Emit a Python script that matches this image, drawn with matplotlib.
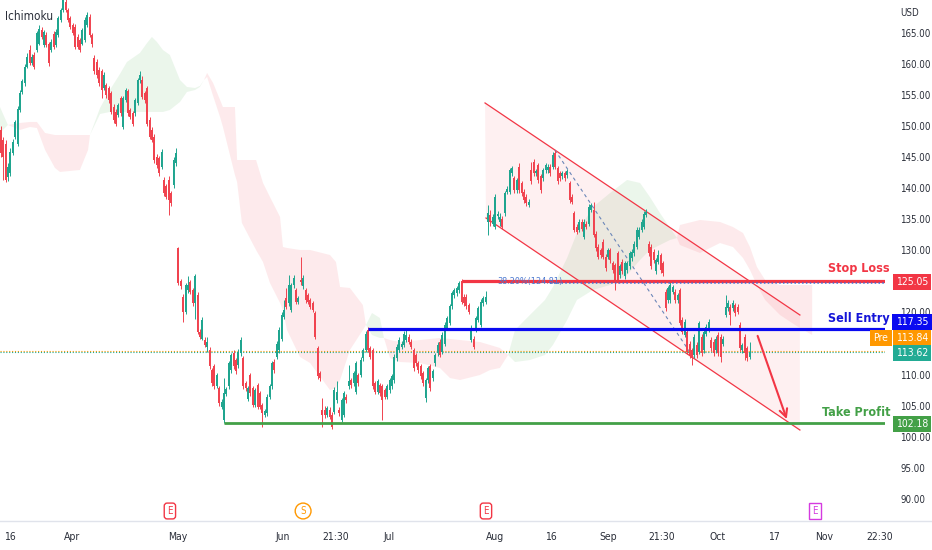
import numpy as np
import matplotlib
matplotlib.use("Agg")
import matplotlib.pyplot as plt
from matplotlib import font_manager as fm
from matplotlib.patches import Polygon, FancyArrowPatch
from matplotlib.lines import Line2D
import matplotlib.transforms as mtransforms

# ---------------- data (4H candles) ----------------
opens = [
    149.4,147.8,147.2,141.8,142.4,145.6,148.3,147.2,152.6,155.5,
    156.9,159.6,162.2,160.1,161.5,162.3,163.3,165.5,163.1,164.7,
    163.3,162.3,164.9,163.1,164.7,167.1,168.7,170.0,168.7,167.4,
    166.3,166.0,164.4,163.9,163.3,163.9,166.3,167.6,164.7,160.9,
    160.4,159.0,158.8,156.1,156.6,156.1,155.3,153.1,152.3,151.8,
    154.5,149.9,154.2,155.6,152.6,152.1,152.1,153.7,157.4,157.4,
    155.3,156.1,151.0,149.4,148.3,145.1,144.8,143.5,141.3,140.3,
    141.3,139.2,140.5,144.0,
    130.3,125.0,122.5,120.1,123.6,124.9,123.6,121.5,122.8,116.9,
    115.8,115.6,114.5,114.0,110.7,111.3,108.1,107.8,104.8,102.7,
    106.9,108.1,110.7,113.4,112.3,111.5,113.4,112.6,108.6,106.1,
    109.9,107.8,105.1,108.3,107.0,105.1,103.5,103.8,106.4,108.1,
    112.1,112.9,113.9,115.8,119.3,122.3,121.5,120.4,124.4,123.6,
    121.7,125.2,124.2,123.6,122.8,122.0,121.5,119.9,114.2,110.2,
    104.3,104.3,103.5,104.3,103.5,104.0,105.9,104.3,102.7,103.5,
    106.4,108.1,109.1,108.6,107.2,109.9,110.0,112.6,114.0,117.2,
    114.2,113.9,108.6,107.2,108.3,108.1,107.5,106.4,107.5,108.1,
    109.1,112.6,114.0,114.5,114.8,115.6,116.1,115.3,113.9,113.1,
    111.8,111.3,110.2,106.2,109.1,111.3,109.4,111.8,113.4,115.3,
    113.7,115.0,117.5,118.3,121.0,122.8,123.1,123.6,125.0,122.5,
    122.5,121.2,115.6,115.8,117.2,118.8,118.0,121.5,121.7,
    134.6,135.7,134.3,133.8,135.5,134.6,135.1,136.0,139.4,139.4,
    142.4,141.6,139.7,143.5,140.8,139.4,138.6,137.3,142.9,144.3,
    142.4,143.7,141.9,141.6,142.9,142.9,143.5,143.5,145.6,143.2,
    142.4,141.9,142.4,142.1,140.8,138.6,136.0,133.8,133.3,134.6,
    132.2,134.3,134.3,136.5,136.5,132.7,130.6,130.0,131.4,129.0,
    129.0,130.0,127.9,127.6,129.5,126.0,128.2,125.8,126.8,127.4,
    128.7,129.5,130.6,132.2,133.3,133.8,135.7,131.1,130.6,129.8,
    126.6,128.2,129.2,127.9,
    123.3,122.0,122.0,123.3,123.3,122.0,123.6,118.8,116.4,116.9,
    115.0,113.9,113.1,114.8,113.7,116.1,113.9,116.6,117.2,115.6,
    115.3,113.9,116.4,116.1,115.0,119.6,120.7,120.9,120.7,121.2,
    120.9,118.0,113.9,116.1,114.2,112.9,
]
highs = [
    150.0,148.3,147.8,144.0,146.5,148.0,151.0,153.2,155.8,157.6,
    160.0,161.8,163.0,161.6,162.0,165.3,166.3,165.9,165.5,165.1,
    163.6,164.0,165.3,165.6,167.8,169.1,170.6,170.4,169.0,167.8,
    166.6,166.4,164.8,164.2,165.8,167.5,168.3,168.0,165.0,161.5,
    160.8,159.5,159.2,158.7,157.0,156.5,155.7,153.5,152.7,153.8,
    154.9,154.9,156.2,156.0,153.0,152.5,154.6,157.8,158.8,158.0,
    155.7,156.5,151.4,149.8,148.7,145.5,145.2,146.3,141.8,140.7,
    142.0,139.6,145.0,146.4,
    130.6,125.4,123.0,124.8,125.8,125.3,124.0,126.2,123.3,117.4,
    119.3,116.0,116.0,114.4,111.0,111.7,110.3,108.2,106.0,109.5,
    108.0,112.2,113.5,114.0,112.7,114.1,116.1,113.0,109.0,108.2,
    110.3,108.2,107.9,108.7,107.4,105.5,104.5,106.8,108.5,112.2,
    112.5,115.4,117.6,120.0,122.0,124.0,126.0,124.8,126.0,124.0,
    122.7,129.0,126.0,124.0,123.2,122.4,121.9,120.3,114.6,110.6,
    106.2,104.9,105.0,104.7,104.0,108.0,108.9,104.7,106.3,107.4,
    106.8,111.5,109.5,110.6,112.2,110.3,112.8,114.3,117.0,117.6,
    114.6,114.3,109.0,109.3,108.7,108.5,107.9,108.5,109.5,110.1,
    113.3,115.0,116.0,115.4,117.0,117.4,116.5,115.7,114.3,113.5,
    112.2,111.7,110.6,109.5,111.4,111.7,110.9,113.5,115.2,115.7,
    116.8,118.4,119.5,121.4,123.5,124.0,124.3,125.1,125.4,122.9,
    122.9,121.6,118.0,116.2,119.5,121.1,122.1,122.7,123.4,
    137.3,136.5,135.8,139.0,136.3,136.0,135.5,139.6,140.3,143.3,
    143.6,142.0,141.7,144.0,141.2,139.8,139.0,138.2,144.3,144.7,
    143.1,144.1,142.3,143.3,144.1,143.9,143.9,145.8,146.2,143.6,
    142.8,142.8,142.8,143.1,141.2,139.0,136.4,134.2,135.0,135.0,
    135.0,134.7,137.4,137.7,137.8,133.1,131.0,130.4,131.8,129.4,
    130.4,130.4,128.3,128.0,129.9,127.8,128.6,128.3,128.3,129.9,
    130.2,131.5,133.7,133.7,135.0,136.3,136.7,131.5,131.0,130.2,
    128.8,130.0,129.6,128.3,
    123.7,124.3,124.9,124.5,123.7,123.2,124.0,119.2,118.9,117.3,
    115.4,114.3,116.5,115.2,118.7,116.5,117.3,118.1,118.9,116.0,
    115.7,116.2,116.8,116.5,116.2,122.8,122.0,121.3,122.0,121.6,
    121.3,118.4,115.1,116.5,114.6,115.2,
]
lows = [
    145.0,141.3,141.0,141.2,142.0,145.4,148.0,146.8,152.3,155.2,
    156.5,159.3,159.8,159.8,159.2,161.9,163.0,164.0,162.8,162.7,
    159.7,162.0,162.5,162.8,164.4,166.8,168.4,168.3,166.8,165.7,
    164.6,162.4,162.4,161.9,163.0,163.5,166.0,164.3,162.8,158.4,
    157.8,156.4,154.5,155.8,154.6,153.8,151.9,150.5,150.0,151.4,
    151.7,149.5,153.9,151.7,151.1,150.0,151.7,153.4,157.0,154.3,
    153.8,150.0,147.9,147.4,144.1,143.3,142.0,143.1,138.8,138.2,
    135.7,137.2,140.1,143.6,
    124.5,123.8,118.5,119.7,123.2,122.9,121.0,119.0,116.5,115.8,
    115.5,114.4,113.6,110.9,108.2,107.6,107.8,105.0,104.4,102.2,
    106.5,107.7,110.3,110.9,110.1,111.1,113.0,107.7,107.4,105.7,
    106.6,104.7,104.7,104.4,104.4,101.6,103.1,103.4,106.0,107.7,
    110.3,112.5,113.5,115.4,118.9,120.5,121.1,120.0,124.0,121.3,
    121.3,124.5,123.8,121.6,121.3,120.5,120.0,115.7,109.3,109.0,
    101.6,103.0,103.1,102.8,101.2,103.6,105.5,103.4,102.3,103.1,
    105.5,107.7,107.9,108.2,106.8,108.2,109.6,112.2,113.6,113.6,
    112.5,107.7,106.8,106.8,106.6,102.7,106.0,106.0,107.1,107.7,
    108.7,112.2,113.6,114.1,114.4,115.2,114.9,114.1,110.6,111.4,
    110.3,109.3,108.2,105.6,108.7,107.4,109.0,111.4,113.0,112.8,
    113.3,114.6,117.1,117.9,120.6,122.4,122.7,123.2,121.3,121.1,
    120.6,119.7,115.2,114.1,116.8,118.4,117.6,121.1,121.3,
    132.5,134.0,133.9,133.4,135.0,134.0,133.4,135.6,139.0,139.0,
    142.0,139.3,139.3,139.3,138.8,137.7,137.2,136.9,140.7,142.0,
    142.0,140.9,139.3,141.2,142.5,142.5,142.0,143.1,143.1,140.7,
    141.2,141.5,141.2,141.7,137.7,137.4,132.9,132.6,132.9,133.1,
    131.8,133.4,133.9,136.1,132.1,129.9,128.6,128.8,128.6,126.7,
    128.6,128.0,126.4,123.6,124.8,125.6,126.2,125.4,126.4,127.0,
    128.3,129.1,130.2,131.8,132.9,133.4,135.3,129.1,127.0,128.0,
    126.2,127.8,126.4,125.9,
    120.3,121.6,121.6,122.9,121.6,121.6,117.9,116.5,116.0,113.3,
    112.7,111.5,112.7,112.7,113.3,113.0,113.5,116.2,116.8,113.8,
    113.0,113.5,113.0,112.1,114.6,119.2,120.3,118.0,120.3,119.5,
    119.7,113.8,113.5,112.3,112.2,112.5,
]
closes = [
    145.6,145.1,141.3,143.5,145.9,147.5,150.7,152.8,155.3,157.2,
    159.6,161.2,160.1,161.2,159.6,165.0,165.7,164.4,165.2,163.1,
    160.1,163.6,162.8,165.2,167.4,168.7,170.3,168.7,167.1,166.0,
    165.0,162.8,162.8,162.3,165.5,167.1,167.9,164.7,163.3,158.8,
    158.2,156.9,155.8,158.2,155.0,154.2,152.3,151.0,150.4,153.4,
    152.1,154.5,155.8,152.1,151.5,150.4,154.2,157.4,158.3,154.7,
    154.2,150.4,148.3,147.8,144.5,143.7,142.4,145.9,139.2,138.6,
    138.1,137.6,144.5,145.6,
    124.7,124.2,120.1,124.4,124.4,123.3,121.5,125.8,116.9,116.1,
    118.8,114.8,115.3,111.3,108.6,108.1,109.9,105.4,105.6,107.0,
    107.6,111.8,113.1,111.3,110.5,113.7,115.6,108.1,107.8,107.8,
    107.0,105.1,107.5,104.8,104.8,103.8,104.1,106.4,108.1,111.8,
    110.7,115.0,117.2,119.6,120.4,120.9,124.4,124.4,125.5,121.7,
    122.3,124.9,125.5,122.0,121.7,120.9,120.4,116.1,109.7,109.4,
    103.5,103.5,104.6,103.2,101.6,107.5,107.2,103.8,105.9,107.0,
    105.9,108.9,108.3,110.2,111.8,108.6,112.4,113.9,116.6,114.0,
    112.9,108.1,107.2,108.9,107.0,105.9,106.4,108.1,109.1,109.7,
    112.9,114.5,115.6,115.0,116.6,116.4,115.3,114.5,111.0,111.8,
    110.7,109.7,108.6,109.1,111.0,107.8,110.5,113.1,114.8,113.2,
    116.4,118.0,119.1,121.0,123.1,123.6,123.9,124.7,121.7,121.5,
    121.0,120.1,117.5,114.5,119.1,120.7,121.7,122.3,122.5,
    136.0,134.6,135.4,138.6,135.9,135.4,133.8,139.2,139.9,142.9,
    143.2,139.7,141.3,139.7,139.2,138.1,137.6,137.8,141.1,142.4,
    142.7,141.3,139.7,142.9,143.7,143.5,142.4,145.4,143.5,141.1,
    141.6,142.4,141.6,142.7,138.1,137.8,133.3,133.0,134.6,133.5,
    134.6,133.8,137.0,137.3,132.5,130.3,129.0,129.2,129.0,127.1,
    130.0,128.4,126.8,125.0,125.2,127.4,126.6,127.9,127.9,129.5,
    129.8,131.1,133.3,133.3,134.6,135.9,136.2,129.5,127.4,128.4,
    128.4,129.2,126.8,126.3,
    120.7,123.9,124.4,124.1,122.0,122.8,118.3,116.9,118.5,113.7,
    113.1,112.6,116.1,113.1,118.3,113.4,116.9,117.7,118.5,114.2,
    113.4,115.8,113.4,112.9,115.8,120.9,121.5,119.6,121.5,119.9,
    120.1,114.2,114.7,113.4,112.6,113.62,
]

# Ichimoku cloud (leading spans A / B), sampled at bar positions
cloud_x = [-0.3, 3.0, 8.0, 12.2, 15.1, 18.5, 22.6, 24.7, 33.0, 36.4, 37.2,
           41.4, 45.5, 49.7, 52.6, 58.0, 61.0, 63.0, 65.1, 67.6, 70.5, 74.7,
           77.6, 81.0, 83.0, 84.7, 86.0, 88.5, 91.4, 92.6, 97.6, 98.5, 100.5,
           106.4, 109.3, 112.2, 116.4, 117.6, 119.3, 124.7, 128.9, 137.2,
           139.7, 141.4, 145.5, 150.9, 152.2, 154.7, 158.0, 159.7, 162.2,
           166.4, 174.7, 183.0, 187.2, 191.4, 199.7, 203.9, 208.0, 211.4,
           214.3, 220.5, 226.8, 230.1, 236.0, 240.1, 246.8, 253.9, 261.0,
           266.4, 270.5, 274.7, 278.9, 281.8, 283.0, 291.4, 299.7, 305.1,
           309.3, 312.2, 315.1, 318.5, 324.7, 331.0, 338.1]
span_a = [153.08, 150.19, 149.38, 149.86, 149.70, 146.16, 143.27, 142.62, 142.94,
          146.16, 148.57, 152.92, 155.82, 158.40, 160.33, 161.78, 163.39, 164.36,
          163.55, 162.26, 161.46, 157.43, 156.31, 156.14, 156.47, 157.43, 157.91,
          154.86, 151.47, 149.86, 142.13, 141.01, 134.41, 130.06, 128.12, 124.74,
          121.52, 120.40, 117.17, 112.83, 111.86, 107.51, 107.83, 109.12, 113.95,
          117.17, 117.98, 119.91, 119.11, 115.89, 112.66, 112.02, 111.86, 111.06,
          109.44, 109.12, 109.93, 110.73, 111.06, 113.15, 117.17, 119.59, 122.01,
          124.10, 128.77, 132.79, 136.98, 139.23, 141.33, 140.85, 138.59, 136.01,
          133.60, 131.99, 130.86, 129.57, 131.18, 130.54, 128.77, 126.84, 124.42,
          122.01, 119.59, 117.98, 116.37]
span_b = [148.90, 150.19, 150.51, 150.67, 150.67, 148.90, 148.57, 148.57, 148.57,
          148.57, 148.57, 151.96, 152.28, 152.28, 152.28, 152.28, 152.28, 152.28,
          152.28, 152.28, 152.60, 153.89, 155.50, 155.82, 156.31, 157.43, 158.56,
          156.95, 154.21, 153.08, 153.08, 144.55, 144.55, 144.55, 140.85, 138.59,
          135.37, 130.54, 130.38, 130.06, 130.06, 129.25, 128.12, 124.10, 123.94,
          121.20, 117.98, 116.37, 115.89, 115.89, 115.56, 115.24, 115.56, 115.89,
          115.73, 115.56, 115.24, 114.76, 114.28, 113.15, 112.02, 112.34, 113.15,
          114.76, 118.78, 122.01, 123.62, 124.42, 126.03, 128.45, 130.06, 130.86,
          131.67, 131.99, 134.08, 134.89, 134.57, 133.76, 132.79, 130.54, 127.32,
          125.23, 124.42, 124.42, 124.42]

stop_loss, sell_entry, take_profit = 125.05, 117.35, 102.18
fib_level = 124.81
pre_price, last_price = 113.84, 113.62
channel_upper = [(201.8, 153.73), (333.0, 119.59)]
channel_lower = [(202.2, 135.21), (333.0, 101.07)]
fib_trend = [(230.9, 146.16), (288.5, 112.83)]
arrow_pts = [(315.0, 116.65), (327.9, 102.41)]
level_start = {"stop": 192, "entry": 153, "tp": 93, "fib_text": 206.8, "fib_dots": 228.9}

x_tick_pos = [3.9, 29.7, 73.9, 117.6, 139.7, 161.8, 206.0, 229.3, 253.0, 275.5, 298.5, 322.2, 343.0, 366.4]
x_tick_lab = ['16', 'Apr', 'May', 'Jun', '21:30', 'Jul', 'Aug', '16', 'Sep', '21:30', 'Oct', '17', 'Nov', '22:30']
y_ticks = [90, 95, 100, 105, 110, 120, 130, 135, 140, 145, 150, 155, 160, 165]
events = [(70.5, 'E', '#f23645', 'round'), (126.0, 'S', '#ff9800', 'circle'),
          (202.2, 'E', '#f23645', 'round'), (339.3, 'E', '#d53be0', 'square')]

# ---------------- fonts ----------------
names = {f.name for f in fm.fontManager.ttflist}
stretch = 'normal'
if 'Liberation Sans Narrow' in names:
    FAM = 'Liberation Sans Narrow'
else:
    FAM = 'DejaVu Sans'
    for f in fm.fontManager.ttflist:
        if f.name == 'DejaVu Sans' and str(f.stretch) in ('condensed', 'semi-condensed', '500', '600'):
            stretch = 'condensed'
            break
    if stretch == 'normal' and 'Liberation Sans' in names:
        FAM = 'Liberation Sans'
plt.rcParams['font.family'] = [FAM, 'DejaVu Sans']
plt.rcParams['font.stretch'] = stretch

GREEN = '#1fa58f'
RED = '#f0434f'
TXT = '#2a2e39'

W, H = 932, 550
fig = plt.figure(figsize=(W / 100, H / 100), dpi=100)
fig.patch.set_facecolor('white')
ax = fig.add_axes([0, 29 / H, 885 / W, 521 / H])
PX, X0 = 2.4, 0.7
xmin, xmax = (0 - X0) / PX, (885 - X0) / PX
ax.set_xlim(xmin, xmax)
ax.set_ylim(86.42, 170.31)
for s in ax.spines.values():
    s.set_visible(False)

# cloud
cx = np.array(cloud_x); a = np.array(span_a); b = np.array(span_b)
ax.fill_between(cx, a, b, where=a >= b, interpolate=True, color='#4caf50', alpha=0.11, lw=0, zorder=1)
ax.fill_between(cx, a, b, where=a <= b, interpolate=True, color='#f23645', alpha=0.10, lw=0, zorder=1)

# channel
(ux0, uy0), (ux1, uy1) = channel_upper
(lx0, ly0), (lx1, ly1) = channel_lower
ax.add_patch(Polygon([(ux0, uy0), (ux1, uy1), (lx1, ly1), (lx0, ly0)], closed=True,
                     fc='#f23645', alpha=0.07, ec='none', zorder=1.5))
ax.plot([ux0, ux1], [uy0, uy1], color='#f23645', lw=0.9, zorder=2)
ax.plot([lx0, lx1], [ly0, ly1], color='#f23645', lw=0.9, zorder=2)

# candles
o = np.array(opens); h = np.array(highs); l = np.array(lows); c = np.array(closes)
n = len(c)
idx = np.arange(n)
cols = np.where(c >= o, GREEN, RED)
ax.vlines(idx, l, h, colors=cols, lw=0.7, zorder=3)
ax.bar(idx, np.maximum(np.abs(c - o), 0.18), bottom=np.minimum(o, c), width=0.78,
       color=cols, lw=0, zorder=3)

# dotted price lines
ax.axhline(pre_price, color='#ff9800', lw=0.8, ls=(0, (1, 1.6)), zorder=2.5)
ax.axhline(last_price, color='#22ab94', lw=0.8, ls=(0, (1, 1.6)), zorder=2.5)

# horizontal levels
ax.plot([level_start['stop'], xmax], [stop_loss] * 2, color='#f23645', lw=2.3, zorder=4, solid_capstyle='butt')
ax.plot([level_start['entry'], xmax], [sell_entry] * 2, color='#0a0af0', lw=2.3, zorder=4, solid_capstyle='butt')
ax.plot([level_start['tp'], xmax], [take_profit] * 2, color='#43a047', lw=2.0, zorder=4, solid_capstyle='butt')
ax.plot([level_start['fib_dots'], xmax], [fib_level] * 2, color='#3f6fd8', lw=1.1, ls=(0, (1, 1.5)), zorder=4.5)
ax.text(level_start['fib_text'], fib_level + 0.15, '38.20%(124.81)', color='#4a78d0', fontsize=6.5,
        va='center', ha='left', zorder=5)

# fib trend dashed
(fx0, fy0), (fx1, fy1) = fib_trend
ax.plot([fx0, fx1], [fy0, fy1], color='#6b86b8', lw=0.8, ls=(0, (3, 3)), zorder=2.6)

# arrow
(ax0, ay0), (ax1, ay1) = arrow_pts
ax.add_patch(FancyArrowPatch((ax0, ay0), (ax1, ay1), arrowstyle='->', mutation_scale=14,
                             color='#f23645', lw=1.5, zorder=5))

# annotations on the right
tr = mtransforms.blended_transform_factory(ax.transAxes, ax.transData)
xr = 890 / 885
ax.text(xr, 127.0, 'Stop Loss', transform=tr, ha='right', va='center', color='#f23645',
        fontsize=9, fontweight='bold', clip_on=False, zorder=10)
ax.text(xr, 119.1, 'Sell Entry', transform=tr, ha='right', va='center', color='#1414d8',
        fontsize=9, fontweight='bold', clip_on=False, zorder=10)
ax.text(xr, 103.97, 'Take Profit', transform=tr, ha='right', va='center', color='#43a047',
        fontsize=9, fontweight='bold', clip_on=False, zorder=10)

# y axis ticks on the right
ax.yaxis.tick_right()
ax.set_yticks(y_ticks)
ax.set_yticklabels([f'{v:.2f}' for v in y_ticks])
ax.tick_params(axis='y', length=0, pad=11, labelsize=7, labelcolor=TXT)
ax.set_xticks(x_tick_pos)
ax.set_xticklabels(x_tick_lab)
ax.tick_params(axis='x', length=0, pad=8, labelsize=7.5, labelcolor=TXT)

def price_box(y, text, fc, x=912 / 885):
    ax.text(x, y, text, transform=tr, ha='center', va='center', color='white', fontsize=7.5,
            clip_on=False, zorder=12,
            bbox=dict(boxstyle='square,pad=0.32', fc=fc, ec='none'))

price_box(124.9, f'{stop_loss:.2f}', '#f23645')
price_box(118.46, f'{sell_entry:.2f}', '#0a0af0')
price_box(115.89, f'{pre_price:.2f}', '#ff9800')
price_box(113.47, f'{last_price:.2f}', '#22ab94')
price_box(102.04, f'{take_profit:.2f}', '#43a047')
price_box(115.89, 'Pre', '#ff9800', x=881 / 885)

# event markers
tre = mtransforms.blended_transform_factory(ax.transData, ax.transAxes)
for ex, lab, col, style in events:
    ax.text(ex, 10 / 521, lab, transform=tre, ha='center', va='center', color=col, fontsize=7,
            clip_on=False, zorder=10,
            bbox=dict(boxstyle=f'{style},pad=0.3', fc='white', ec=col, lw=1))

# misc text
ax.text(5 / 885, 1 - 16 / 521, 'Ichimoku', transform=ax.transAxes, ha='left', va='center',
        fontsize=8.5, color=TXT, zorder=10)
fig.text(900 / W, 1 - 13 / H, 'USD', ha='left', va='center', fontsize=7, color=TXT)
fig.add_artist(Line2D([0, 1], [29 / H, 29 / H], transform=fig.transFigure, color='#e0e3eb', lw=1))

fig.savefig('out.png', dpi=100, facecolor='white')
